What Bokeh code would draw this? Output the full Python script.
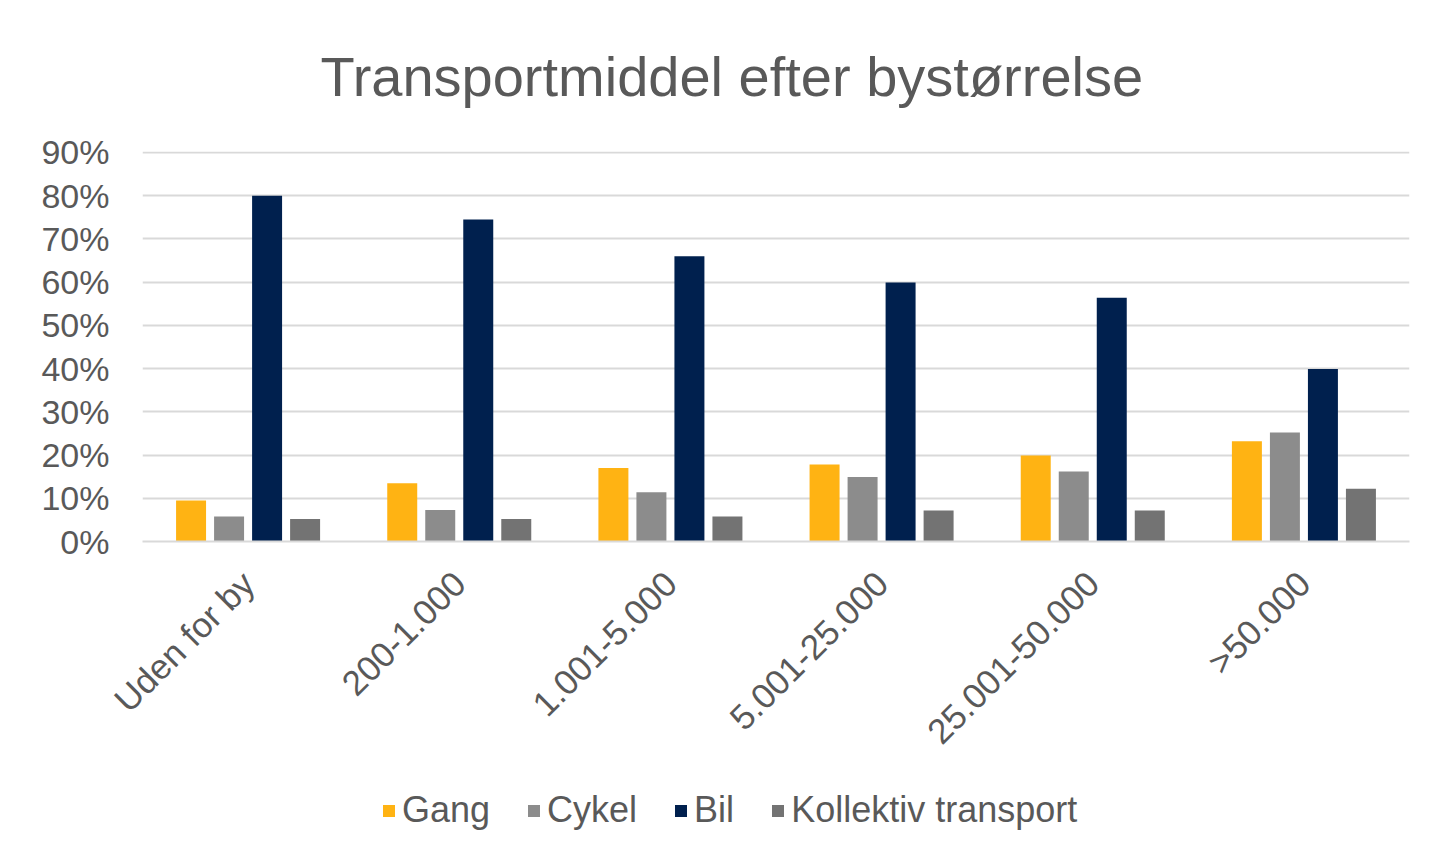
import math
from bokeh.plotting import figure
from bokeh.layouts import column
from bokeh.models import FactorRange, Range1d, FixedTicker, NumeralTickFormatter, Legend, LegendItem
from bokeh.transform import dodge
from bokeh.embed import file_html
from bokeh.resources import INLINE

categories = ["Uden for by", "200-1.000", "1.001-5.000", "5.001-25.000", "25.001-50.000", ">50.000"]
series_names = ["Gang", "Cykel", "Bil", "Kollektiv transport"]
gang = [0.095, 0.135, 0.17, 0.178, 0.199, 0.232]
cykel = [0.058, 0.073, 0.114, 0.149, 0.162, 0.252]
bil = [0.80, 0.745, 0.66, 0.599, 0.564, 0.399]
kollektiv = [0.052, 0.052, 0.058, 0.072, 0.072, 0.122]
yticks = [0, 0.1, 0.2, 0.3, 0.4, 0.5, 0.6, 0.7, 0.8, 0.9]

colors = ["#FFB313", "#8C8C8C", "#00204E", "#737373"]
FONT = "Liberation Sans"
TXT = "#595959"

data = dict(cat=categories, gang=gang, cykel=cykel, bil=bil, kollektiv=kollektiv)
keys = ["gang", "cykel", "bil", "kollektiv"]
offsets = [-0.27, -0.09, 0.09, 0.27]

p = figure(x_range=FactorRange(*categories), y_range=Range1d(0, 0.9023),
           width=1424, height=780, output_backend="svg", toolbar_location=None,
           min_border_left=142, min_border_right=15, min_border_top=151, min_border_bottom=239)

p.title.text = "Transportmiddel efter bystørrelse"
p.title.text_font = FONT
p.title.text_font_size = "56px"
p.title.text_font_style = "normal"
p.title.text_color = TXT
p.title.align = "left"
p.title.vertical_align = "top"
p.title.offset = 178
p.title.standoff = 84

for k, off, c in zip(keys, offsets, colors):
    p.vbar(x=dodge("cat", off, range=p.x_range), top=k, width=0.142, source=data,
           fill_color=c, line_color=None)

p.yaxis.ticker = FixedTicker(ticks=yticks)
p.yaxis.formatter = NumeralTickFormatter(format="0%")
p.yaxis.axis_line_color = None
p.yaxis.major_tick_line_color = None
p.yaxis.minor_tick_line_color = None
p.yaxis.major_label_text_font = FONT
p.yaxis.major_label_text_font_size = "34px"
p.yaxis.major_label_text_color = TXT
p.yaxis.major_label_standoff = 27

p.xaxis.axis_line_color = "#D9D9D9"
p.xaxis.axis_line_width = 2
p.xaxis.major_tick_line_color = None
p.xaxis.minor_tick_line_color = None
p.xaxis.major_label_orientation = math.pi / 4
p.xaxis.major_label_text_font = FONT
p.xaxis.major_label_text_font_size = "35px"
p.xaxis.major_label_text_color = TXT
p.xaxis.major_label_standoff = 30

p.xgrid.grid_line_color = None
p.ygrid.grid_line_color = "#D9D9D9"
p.ygrid.grid_line_width = 2
p.outline_line_color = None

# legend strip below the chart (its swatch renderers lie outside its visible range)
lg = figure(x_range=FactorRange(*categories), y_range=Range1d(5, 6),
            width=1424, height=68, output_backend="svg", toolbar_location=None,
            min_border_left=0, min_border_right=0, min_border_top=0, min_border_bottom=0)
lg.axis.visible = False
lg.grid.grid_line_color = None
lg.outline_line_color = None
renderers = []
for k, off, c in zip(keys, offsets, colors):
    r = lg.vbar(x=dodge("cat", off, range=lg.x_range), top=k, width=0.142, source=data,
                fill_color=c, line_color=None)
    renderers.append(r)

legend = Legend(items=[LegendItem(label=n, renderers=[r]) for n, r in zip(series_names, renderers)],
                orientation="horizontal", location=(239, 17),
                label_text_font=FONT, label_text_font_size="36px", label_text_color=TXT,
                glyph_width=15, glyph_height=15, spacing=36, label_standoff=6,
                border_line_color=None, background_fill_alpha=0, margin=0, padding=0)
lg.add_layout(legend)

layout = column(p, lg, spacing=0)
open("out.html", "w").write(file_html(layout, INLINE))
